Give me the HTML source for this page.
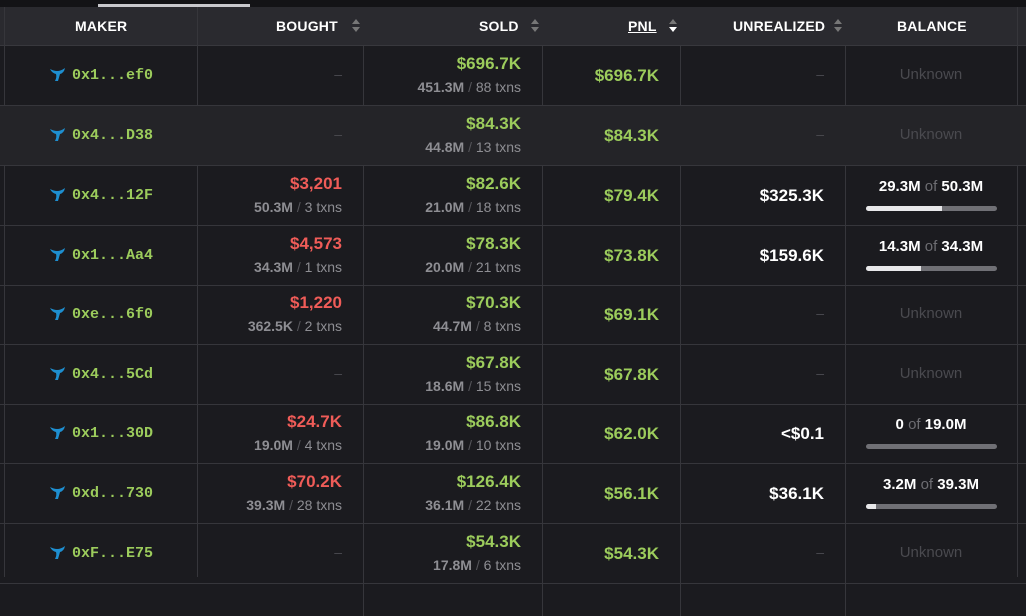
<!DOCTYPE html>
<html><head><meta charset="utf-8"><style>
*{margin:0;padding:0;box-sizing:border-box}
body{width:1026px;height:577px;overflow:hidden;background:#1b1b1f;font-family:"Liberation Sans",sans-serif;position:relative}
.top{position:absolute;left:0;top:0;width:1026px;height:7px;background:#131316}
.tab{position:absolute;left:98px;top:4px;width:152px;height:3px;background:#c8c8cc}
.hdr{position:absolute;left:0;top:7px;width:1026px;height:39px;background:#2a2a2f;border-bottom:1px solid #38383d}
.h{position:absolute;top:11px;color:#fff;font-weight:bold;font-size:14px;letter-spacing:0.2px}
.ar{position:absolute;top:12px;width:8px;height:15px}
.ar:before{content:"";position:absolute;left:0;top:0;border:4px solid transparent;border-bottom:5px solid #777;border-top:0}
.ar:after{content:"";position:absolute;left:0;top:8px;border:4px solid transparent;border-top:5px solid #777;border-bottom:0}
.ar.w:after{border-top-color:#fff}
.row{position:absolute;left:0;width:1026px;height:60px;border-bottom:1px solid #36363b}
.vl{position:absolute;top:7px;height:570px;width:1px;background:#36363b}
.c{position:absolute;font-weight:bold;white-space:nowrap}
.m{font-family:"Liberation Mono",monospace;color:#9ccc5c;font-size:15px;font-weight:bold;top:21px}
.whale{position:absolute;top:22px;left:50px;width:15px;height:13px}
.g{color:#9ccc5c;font-size:17px}
.r{color:#f05c58;font-size:17px}
.s{color:#8e8e93;font-size:14px;font-weight:bold}
.s i{font-style:normal;color:#55555a;font-weight:normal}
.s b{font-weight:normal;color:#8e8e93}
.d{color:#4a4a4f;font-size:14px;font-weight:normal}
.u{color:#4a4a4f;font-size:15px;font-weight:normal;left:845px;width:172px;text-align:center}
.wt{color:#fff;font-size:17px}
.bal{color:#fff;font-size:15px;left:845px;width:172px;text-align:center}
.bal i{font-style:normal;color:#6d6d72;font-weight:normal}
.bar{position:absolute;left:866px;width:131px;height:5px;border-radius:3px;background:#707075;overflow:hidden}
.bar span{display:block;height:5px;background:#e8e8ea}
</style></head><body>
<div class="top"></div><div class="tab"></div>
<div class="hdr">
<div class="h" style="left:75px">MAKER</div>
<div class="h" style="left:276px">BOUGHT</div><div class="ar" style="left:352px"></div>
<div class="h" style="left:479px">SOLD</div><div class="ar" style="left:531px"></div>
<div class="h" style="left:628px;text-decoration:underline">PNL</div><div class="ar w" style="left:669px"></div>
<div class="h" style="left:733px">UNREALIZED</div><div class="ar" style="left:834px"></div>
<div class="h" style="left:897px">BALANCE</div>
</div>
<div class="vl" style="left:4px"></div>
<div class="vl" style="left:197px"></div>
<div class="vl" style="left:363px;top:46px"></div>
<div class="vl" style="left:542px;top:46px"></div>
<div class="vl" style="left:680px;top:46px"></div>
<div class="vl" style="left:845px;top:46px"></div>
<div class="vl" style="left:1017px"></div>

<svg width="0" height="0" style="position:absolute"><defs><symbol id="wh" viewBox="0 0 15 13"><path d="M0 1 Q4 3 7 3 Q11 3 15 0 Q14 5 10 6 L8 13 L5 13 Q7 9 6 6 Q2 5 0 1Z" fill="#1e8fd0"/></symbol></defs></svg>

<div class="row" style="top:46px">
<svg class="whale"><use href="#wh"/></svg><div class="c m" style="left:72px">0x1...ef0</div>
<div class="c d" style="right:684px;top:20px">–</div>
<div class="c g" style="right:505px;top:8px">$696.7K</div><div class="c s" style="right:505px;top:33px">451.3M <i>/</i> <b>88 txns</b></div>
<div class="c g" style="right:367px;top:20px">$696.7K</div>
<div class="c d" style="right:202px;top:20px">–</div>
<div class="c u" style="top:20px">Unknown</div>
</div>
<div class="row" style="top:106px;background:#242428">
<svg class="whale"><use href="#wh"/></svg><div class="c m" style="left:72px">0x4...D38</div>
<div class="c d" style="right:684px;top:20px">–</div>
<div class="c g" style="right:505px;top:8px">$84.3K</div><div class="c s" style="right:505px;top:33px">44.8M <i>/</i> <b>13 txns</b></div>
<div class="c g" style="right:367px;top:20px">$84.3K</div>
<div class="c d" style="right:202px;top:20px">–</div>
<div class="c u" style="top:20px">Unknown</div>
</div>
<div class="row" style="top:166px">
<svg class="whale"><use href="#wh"/></svg><div class="c m" style="left:72px">0x4...12F</div>
<div class="c r" style="right:684px;top:8px">$3,201</div><div class="c s" style="right:684px;top:33px">50.3M <i>/</i> <b>3 txns</b></div>
<div class="c g" style="right:505px;top:8px">$82.6K</div><div class="c s" style="right:505px;top:33px">21.0M <i>/</i> <b>18 txns</b></div>
<div class="c g" style="right:367px;top:20px">$79.4K</div>
<div class="c wt" style="right:202px;top:20px">$325.3K</div>
<div class="c bal" style="top:12px">29.3M <i>of</i> 50.3M</div>
<div class="bar" style="top:40px"><span style="width:58%"></span></div>
</div>
<div class="row" style="top:226px">
<svg class="whale"><use href="#wh"/></svg><div class="c m" style="left:72px">0x1...Aa4</div>
<div class="c r" style="right:684px;top:8px">$4,573</div><div class="c s" style="right:684px;top:33px">34.3M <i>/</i> <b>1 txns</b></div>
<div class="c g" style="right:505px;top:8px">$78.3K</div><div class="c s" style="right:505px;top:33px">20.0M <i>/</i> <b>21 txns</b></div>
<div class="c g" style="right:367px;top:20px">$73.8K</div>
<div class="c wt" style="right:202px;top:20px">$159.6K</div>
<div class="c bal" style="top:12px">14.3M <i>of</i> 34.3M</div>
<div class="bar" style="top:40px"><span style="width:42%"></span></div>
</div>
<div class="row" style="top:285px">
<svg class="whale"><use href="#wh"/></svg><div class="c m" style="left:72px">0xe...6f0</div>
<div class="c r" style="right:684px;top:8px">$1,220</div><div class="c s" style="right:684px;top:33px">362.5K <i>/</i> <b>2 txns</b></div>
<div class="c g" style="right:505px;top:8px">$70.3K</div><div class="c s" style="right:505px;top:33px">44.7M <i>/</i> <b>8 txns</b></div>
<div class="c g" style="right:367px;top:20px">$69.1K</div>
<div class="c d" style="right:202px;top:20px">–</div>
<div class="c u" style="top:20px">Unknown</div>
</div>
<div class="row" style="top:345px">
<svg class="whale"><use href="#wh"/></svg><div class="c m" style="left:72px">0x4...5Cd</div>
<div class="c d" style="right:684px;top:20px">–</div>
<div class="c g" style="right:505px;top:8px">$67.8K</div><div class="c s" style="right:505px;top:33px">18.6M <i>/</i> <b>15 txns</b></div>
<div class="c g" style="right:367px;top:20px">$67.8K</div>
<div class="c d" style="right:202px;top:20px">–</div>
<div class="c u" style="top:20px">Unknown</div>
</div>
<div class="row" style="top:404px">
<svg class="whale"><use href="#wh"/></svg><div class="c m" style="left:72px">0x1...30D</div>
<div class="c r" style="right:684px;top:8px">$24.7K</div><div class="c s" style="right:684px;top:33px">19.0M <i>/</i> <b>4 txns</b></div>
<div class="c g" style="right:505px;top:8px">$86.8K</div><div class="c s" style="right:505px;top:33px">19.0M <i>/</i> <b>10 txns</b></div>
<div class="c g" style="right:367px;top:20px">$62.0K</div>
<div class="c wt" style="right:202px;top:20px">&lt;$0.1</div>
<div class="c bal" style="top:12px">0 <i>of</i> 19.0M</div>
<div class="bar" style="top:40px"><span style="width:0%"></span></div>
</div>
<div class="row" style="top:464px">
<svg class="whale"><use href="#wh"/></svg><div class="c m" style="left:72px">0xd...730</div>
<div class="c r" style="right:684px;top:8px">$70.2K</div><div class="c s" style="right:684px;top:33px">39.3M <i>/</i> <b>28 txns</b></div>
<div class="c g" style="right:505px;top:8px">$126.4K</div><div class="c s" style="right:505px;top:33px">36.1M <i>/</i> <b>22 txns</b></div>
<div class="c g" style="right:367px;top:20px">$56.1K</div>
<div class="c wt" style="right:202px;top:20px">$36.1K</div>
<div class="c bal" style="top:12px">3.2M <i>of</i> 39.3M</div>
<div class="bar" style="top:40px"><span style="width:8%"></span></div>
</div>
<div class="row" style="top:524px">
<svg class="whale"><use href="#wh"/></svg><div class="c m" style="left:72px">0xF...E75</div>
<div class="c d" style="right:684px;top:20px">–</div>
<div class="c g" style="right:505px;top:8px">$54.3K</div><div class="c s" style="right:505px;top:33px">17.8M <i>/</i> <b>6 txns</b></div>
<div class="c g" style="right:367px;top:20px">$54.3K</div>
<div class="c d" style="right:202px;top:20px">–</div>
<div class="c u" style="top:20px">Unknown</div>
</div>
</body></html>
